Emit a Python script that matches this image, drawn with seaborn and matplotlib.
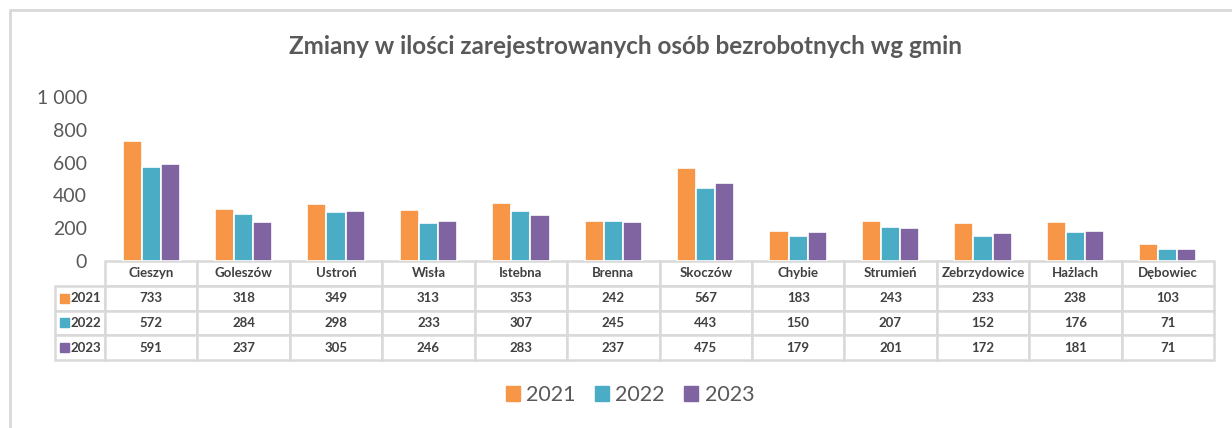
import pandas as pd
import matplotlib.pyplot as plt
import seaborn as sns
from matplotlib.lines import Line2D
from matplotlib.patches import Rectangle

gminy = ['Cieszyn', 'Goleszów', 'Ustroń', 'Wisła', 'Istebna', 'Brenna', 'Skoczów',
         'Chybie', 'Strumień', 'Zebrzydowice', 'Hażlach', 'Dębowiec']
years = ['2021', '2022', '2023']
v2021 = [733, 318, 349, 313, 353, 242, 567, 183, 243, 233, 238, 103]
v2022 = [572, 284, 298, 233, 307, 245, 443, 150, 207, 152, 176, 71]
v2023 = [591, 237, 305, 246, 283, 237, 475, 179, 201, 172, 181, 71]
colors = ['#F79646', '#4BACC6', '#8064A2']

sns.set_style('white')
plt.rcParams['font.family'] = ['Lato', 'DejaVu Sans']

df = pd.DataFrame({'gmina': gminy * 3,
                   'rok': [y for y in years for _ in gminy],
                   'liczba': v2021 + v2022 + v2023})

fig = plt.figure(figsize=(12.32, 4.28), dpi=100)
ax = fig.add_axes([105 / 1232, 1 - 261 / 428, 1109 / 1232, 164 / 428])

sns.barplot(data=df, x='gmina', y='liczba', hue='rok', palette=colors, width=0.62,
            saturation=1, edgecolor='white', linewidth=1.2, legend=False, ax=ax)

ax.set_ylim(0, 1000)
ax.set_xlim(-0.5, len(gminy) - 0.5)
ax.set_yticks(range(0, 1001, 200))
ax.set_yticklabels(['0', '200', '400', '600', '800', '1 000'], fontsize=14, color='#595959')
ax.tick_params(axis='y', length=0, pad=13)
ax.set_xticks([])
ax.set_xlabel('')
ax.set_ylabel('')
sns.despine(ax=ax, left=True, bottom=True)

# data table under the bars (first column holds the year labels)
lab_w = 50 / 1109
cell_vals = [[''] + [str(v) for v in vals] for vals in (v2021, v2022, v2023)]
tab = ax.table(cellText=cell_vals, colLabels=[''] + gminy,
               colWidths=[lab_w] + [1 / 12] * 12, cellLoc='center',
               bbox=[-lab_w, -99 / 164, 1 + lab_w, 99 / 164])
tab.auto_set_font_size(False)
tab.set_fontsize(9.5)
for (r, c), cell in tab.get_celld().items():
    cell.set_edgecolor('#D9D9D9')
    cell.set_linewidth(1.8)
    cell.get_text().set_color('#404040')
    cell.get_text().set_fontweight('bold')
tab[0, 0].visible_edges = ''

row_h = 99 / 164 / 4
for i, y in enumerate(years):
    yc = -row_h * (i + 1.5)
    ax.add_patch(Rectangle(((60 - 105) / 1109, yc - 4.5 / 164), 9 / 1109, 9 / 164,
                           transform=ax.transAxes, color=colors[i], clip_on=False, zorder=5))
    ax.text((70 - 105) / 1109, yc, y, transform=ax.transAxes, ha='left', va='center',
            fontsize=9.5, fontweight='bold', color='#404040', zorder=5)

fig.suptitle('Zmiany w ilości zarejestrowanych osób bezrobotnych wg gmin',
             x=0.508, y=1 - 47 / 428, va='center', fontsize=17.5, fontweight='bold', color='#595959')

handles = [Rectangle((0, 0), 1, 1, color=c) for c in colors]
fig.legend(handles, years, loc='center', bbox_to_anchor=(630 / 1232, 1 - 395 / 428), ncol=3,
           frameon=False, fontsize=15.5, handlelength=0.65, handleheight=0.65,
           handletextpad=0.3, columnspacing=0.9, labelcolor='#595959')

# chart border (left and top edges visible)
fig.add_artist(Line2D([10 / 1232, 10 / 1232], [0, 1 - 10 / 428], color='#D9D9D9', lw=2,
                      transform=fig.transFigure))
fig.add_artist(Line2D([10 / 1232, 1], [1 - 10 / 428, 1 - 10 / 428], color='#D9D9D9', lw=2,
                      transform=fig.transFigure))

fig.savefig('out.png', dpi=100, facecolor='white')
